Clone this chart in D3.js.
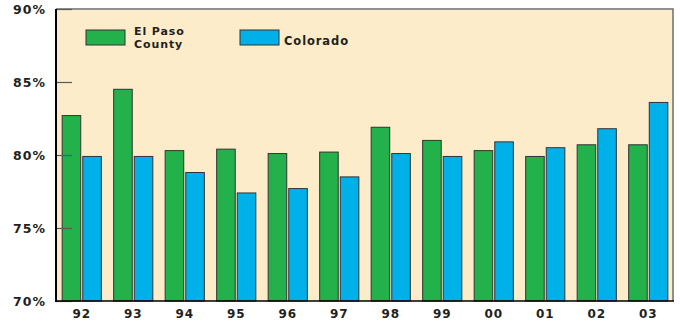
<!DOCTYPE html>
<html>
<head>
<meta charset="utf-8">
<script src="https://cdn.jsdelivr.net/npm/d3@7"></script>
<style>
  body { margin: 0; background: #fff; }
  text { font-family: "DejaVu Sans", sans-serif; font-weight: bold; fill: #231f20; }
</style>
</head>
<body>
<div id="chart"></div>
<script>
// Years and percentages
const years = ["92", "93", "94", "95", "96", "97", "98", "99", "00", "01", "02", "03"];
const elPaso = [82.7, 84.5, 80.3, 80.4, 80.1, 80.2, 81.9, 81.0, 80.3, 79.9, 80.7, 80.7];
const colorado = [79.9, 79.9, 78.8, 77.4, 77.7, 78.5, 80.1, 79.9, 80.9, 80.5, 81.8, 83.6];
const yTicks = [70, 75, 80, 85, 90];
const seriesNames = ["El Paso County", "Colorado"];
const colors = ["#23b14b", "#00b1e9"];

const W = 680, H = 324;
const plot = { left: 56, right: 674, top: 9, bottom: 301 };

const svg = d3.select("#chart").append("svg")
  .attr("width", W)
  .attr("height", H);

const x = d3.scaleBand()
  .domain(years)
  .range([plot.left, plot.right])
  .paddingInner(0.22)
  .paddingOuter(0.11);

const xSub = d3.scaleBand()
  .domain([0, 1])
  .range([0, x.bandwidth()])
  .paddingInner(0.05);

const y = d3.scaleLinear()
  .domain([70, 90])
  .range([plot.bottom, plot.top]);

// plot background
svg.append("rect")
  .attr("x", plot.left).attr("y", plot.top)
  .attr("width", plot.right - plot.left).attr("height", plot.bottom - plot.top)
  .attr("fill", "#fcecc9");

// top & right border
svg.append("path")
  .attr("d", `M${plot.left},${plot.top}H${plot.right - 1}V${plot.bottom}`)
  .attr("fill", "none")
  .attr("stroke", "#6d6e71")
  .attr("stroke-width", 1.5);

// bars
const groups = [elPaso, colorado];
groups.forEach((vals, si) => {
  svg.append("g").selectAll("rect")
    .data(vals)
    .enter().append("rect")
    .attr("x", (d, i) => x(years[i]) + xSub(si) + 0.5)
    .attr("y", d => y(d))
    .attr("width", xSub.bandwidth() - 1)
    .attr("height", d => y(70) - y(d))
    .attr("fill", colors[si])
    .attr("stroke", "#333")
    .attr("stroke-width", 1);
});

// y axis ticks (drawn inward)
const yAxis = svg.append("g")
  .attr("transform", `translate(${plot.left},0)`)
  .call(d3.axisRight(y).tickValues(yTicks).tickSize(16).tickFormat(""));
yAxis.select(".domain").remove();
yAxis.selectAll(".tick line").attr("stroke", "#58595b").attr("stroke-width", 1.2);

svg.append("g").selectAll("text")
  .data(yTicks)
  .enter().append("text")
  .attr("x", plot.left - 10)
  .attr("y", d => y(d))
  .attr("dy", "0.36em")
  .attr("text-anchor", "end")
  .style("font-size", "12.5px")
  .style("letter-spacing", "1px")
  .text(d => d + "%");

// axis lines
svg.append("line")
  .attr("x1", plot.left).attr("x2", plot.left)
  .attr("y1", plot.top).attr("y2", plot.bottom + 1)
  .attr("stroke", "#000").attr("stroke-width", 2);
svg.append("line")
  .attr("x1", plot.left).attr("x2", plot.right)
  .attr("y1", plot.bottom).attr("y2", plot.bottom)
  .attr("stroke", "#000").attr("stroke-width", 1.5);

// x labels
svg.append("g").selectAll("text")
  .data(years)
  .enter().append("text")
  .attr("x", d => x(d) + x.bandwidth() / 2)
  .attr("y", 318)
  .attr("text-anchor", "middle")
  .style("font-size", "12px")
  .style("letter-spacing", "1px")
  .text(d => d);

// legend
const legend = [
  { x: 86, lines: ["El Paso", "County"] },
  { x: 240, lines: ["Colorado"] }
];
legend.forEach((l, i) => {
  svg.append("rect")
    .attr("x", l.x).attr("y", 30)
    .attr("width", 39).attr("height", 15)
    .attr("fill", colors[i])
    .attr("stroke", "#333").attr("stroke-width", 1);
  l.lines.forEach((s, k) => {
    svg.append("text")
      .attr("x", l.x + (i === 0 ? 48 : 44))
      .attr("y", l.lines.length > 1 ? 35 + k * 13 : 45)
      .style("font-size", l.lines.length > 1 ? "11px" : "11.5px")
      .style("letter-spacing", "0.9px")
      .text(s);
  });
});
</script>
</body>
</html>
